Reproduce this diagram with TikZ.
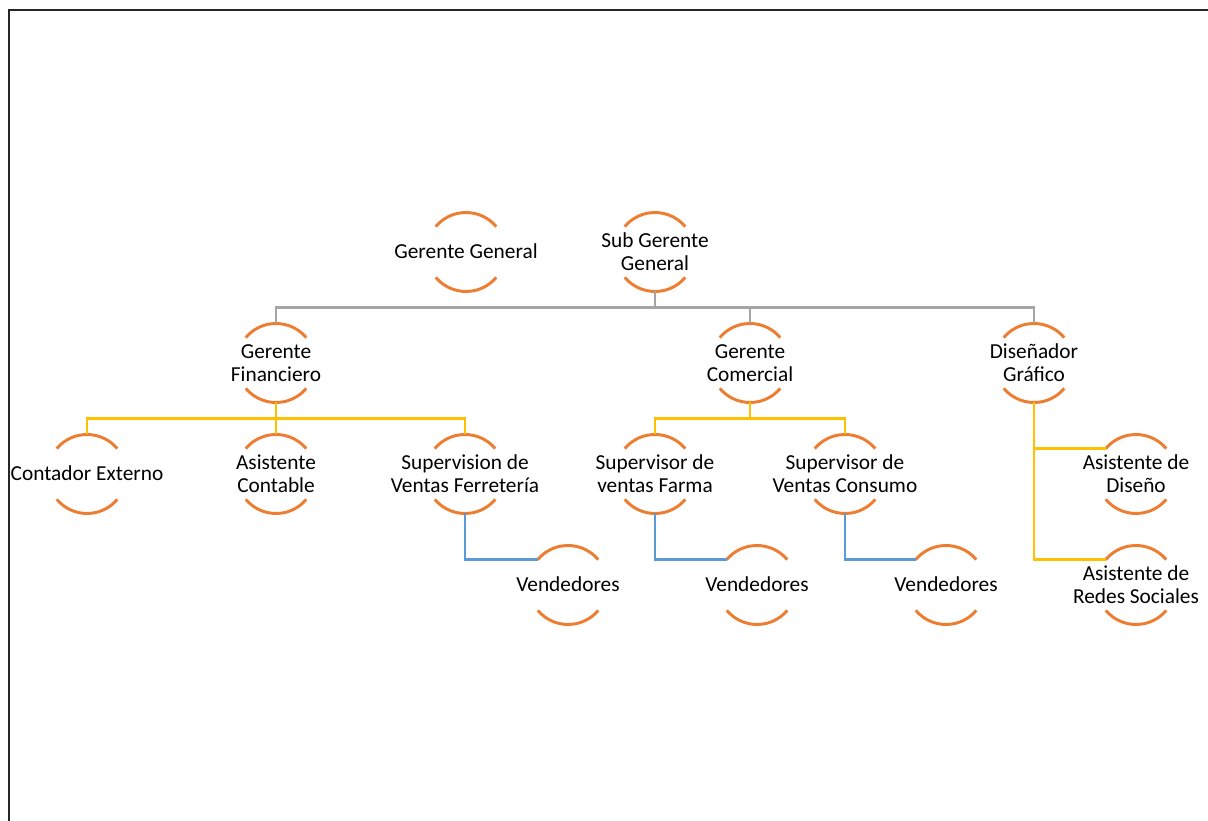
\documentclass[tikz,border=0pt]{standalone}
\usepackage{fontspec}
\setmainfont{Carlito}
\usetikzlibrary{calc}
\definecolor{orgc}{HTML}{ED7D31}
\definecolor{ylwc}{HTML}{FFC000}
\definecolor{bluc}{HTML}{5B9BD5}
\definecolor{gryc}{HTML}{A5A5A5}
\newcommand{\lbl}[1]{\makebox[0pt]{\raisebox{-6pt}[0pt][0pt]{\begin{tabular}{@{}c@{}}#1\end{tabular}}}}
\begin{document}
\begin{tikzpicture}[x=0.75pt,y=0.75pt,
  role/.style={circle,minimum size=59.25pt,inner sep=0pt,outer sep=0pt,
    font=\fontsize{16}{17.3}\selectfont},
  arcline/.style={draw=orgc,line width=2.2pt},
  grayline/.style={draw=gryc,line width=1.7pt},
  yline/.style={draw=ylwc,line width=1.9pt},
  bline/.style={draw=bluc,line width=1.9pt},
  framel/.style={draw=black!85,line width=1.7pt}]
\useasboundingbox (0,0) rectangle (1208,821);
\draw[framel] (1208,811) -- (9,811) -- (9,0);

\node[role] (gg) at (466,569) {\lbl{Gerente General}};
\node[role] (sgg) at (655,569) {\lbl{Sub Gerente\\General}};
\node[role] (gf) at (276,458) {\lbl{Gerente\\Financiero}};
\node[role] (gc) at (750,458) {\lbl{Gerente\\Comercial}};
\node[role] (dg) at (1034,458) {\lbl{Diseñador\\Gráfico}};
\node[role] (ce) at (87,347) {\lbl{Contador Externo}};
\node[role] (ac) at (276,347) {\lbl{Asistente\\Contable}};
\node[role] (sf) at (465,347) {\lbl{Supervision de\\Ventas Ferretería}};
\node[role] (sfa) at (655,347) {\lbl{Supervisor de\\ventas Farma}};
\node[role] (sc) at (845,347) {\lbl{Supervisor de\\Ventas Consumo}};
\node[role] (ad) at (1136,347) {\lbl{Asistente de\\Diseño}};
\node[role] (ars) at (1136,236) {\lbl{Asistente de\\Redes Sociales}};
\node[role] (v1) at (568,236) {\lbl{Vendedores}};
\node[role] (v2) at (757,236) {\lbl{Vendedores}};
\node[role] (v3) at (946,236) {\lbl{Vendedores}};

\foreach \n in {gg,sgg,gf,gc,dg,ce,ac,sf,sfa,sc,ad,ars,v1,v2,v3}{
  \draw[arcline] (\n.40) arc[start angle=40,end angle=140,radius=29.625pt];
  \draw[arcline] (\n.220) arc[start angle=220,end angle=320,radius=29.625pt];
}

% gray level
\coordinate (gbus) at ($(sgg.south)!0.5!(gc.north)$);
\draw[grayline] (gf.north) |- (gbus) -| (dg.north);
\draw[grayline] (sgg.south) -- (sgg.south |- gbus);
\draw[grayline] (gc.north) -- (gc.north |- gbus);

% yellow
\coordinate (ybus1) at ($(gf.south)!0.5!(ac.north)$);
\draw[yline] (ce.north) |- (ybus1) -| (sf.north);
\draw[yline] (gf.south) -- (ac.north);
\coordinate (ybus2) at ($(gc.south)!0.5!(sfa.north)$);
\draw[yline] (sfa.north) |- (ybus2) -| (sc.north);
\draw[yline] (gc.south) -- (gc.south |- ybus2);
\draw[yline] (dg.south) |- (ad.140);
\draw[yline] (dg.south) |- (ars.140);

% blue
\draw[bline] (sf.south) |- (v1.140);
\draw[bline] (sfa.south) |- (v2.140);
\draw[bline] (sc.south) |- (v3.140);
\end{tikzpicture}
\end{document}
